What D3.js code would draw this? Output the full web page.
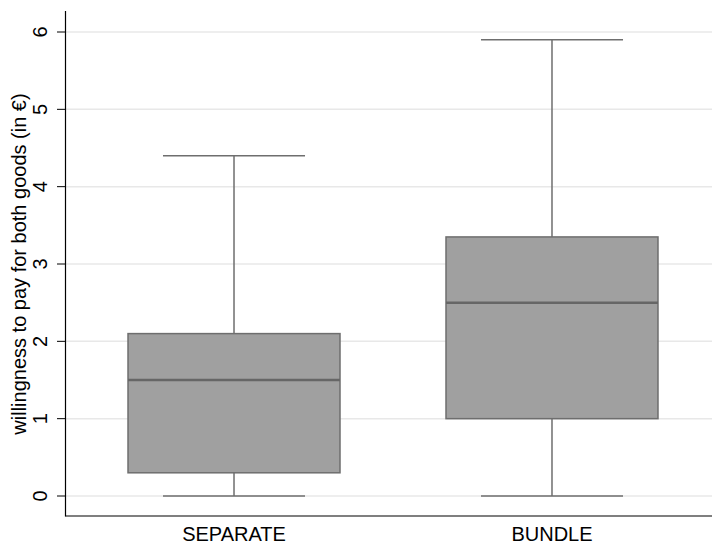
<!DOCTYPE html>
<html><head><meta charset="utf-8">
<script src="https://cdn.jsdelivr.net/npm/d3@7"></script>
<style>body{margin:0;background:#fff}svg{display:block}text{font-family:"Liberation Sans",Arial,sans-serif}</style>
</head><body><svg id="c" width="712" height="545"></svg>
<script>
const categories = ["SEPARATE", "BUNDLE"];
const lowerWhisker = [0, 0];
const q1 = [0.3, 1.0];
const median = [1.5, 2.5];
const q3 = [2.1, 3.35];
const upperWhisker = [4.4, 5.9];
const yTicks = [0, 1, 2, 3, 4, 5, 6];
const yLabel = "willingness to pay for both goods (in €)";

(function () {
const svg = d3.select("#c");
const axLeft = 65.5, axBottom = 516, axTop = 11;
const fs = 20;
const y = d3.scaleLinear().domain([0, 6]).range([496, 32]);
const x = d3.scaleBand().domain(categories).range([66, 720]).paddingInner(1/3).paddingOuter(0.195);

svg.append("g").selectAll("line").data(yTicks).join("line")
  .attr("x1", axLeft).attr("x2", 712).attr("y1", d => y(d)).attr("y2", d => y(d))
  .attr("stroke", "#e8e8e8").attr("stroke-width", 1.5);

const data = categories.map((c, i) => ({c, lo: lowerWhisker[i], q1: q1[i], med: median[i], q3: q3[i], hi: upperWhisker[i]}));
const bw = x.bandwidth();
const col = "#6e6e6e";
const g = svg.append("g").selectAll("g").data(data).join("g");
g.append("line").attr("x1", d => x(d.c) + bw/2).attr("x2", d => x(d.c) + bw/2)
  .attr("y1", d => y(d.q3)).attr("y2", d => y(d.hi)).attr("stroke", col).attr("stroke-width", 1.5);
g.append("line").attr("x1", d => x(d.c) + bw/2).attr("x2", d => x(d.c) + bw/2)
  .attr("y1", d => y(d.q1)).attr("y2", d => y(d.lo)).attr("stroke", col).attr("stroke-width", 1.5);
g.append("line").attr("x1", d => x(d.c) + bw*0.165).attr("x2", d => x(d.c) + bw*0.835)
  .attr("y1", d => y(d.hi)).attr("y2", d => y(d.hi)).attr("stroke", col).attr("stroke-width", 1.5);
g.append("line").attr("x1", d => x(d.c) + bw*0.165).attr("x2", d => x(d.c) + bw*0.835)
  .attr("y1", d => y(d.lo)).attr("y2", d => y(d.lo)).attr("stroke", col).attr("stroke-width", 1.5);
g.append("rect").attr("x", d => x(d.c)).attr("width", bw)
  .attr("y", d => y(d.q3)).attr("height", d => y(d.q1) - y(d.q3))
  .attr("fill", "#a0a0a0").attr("stroke", col).attr("stroke-width", 1.5);
g.append("line").attr("x1", d => x(d.c)).attr("x2", d => x(d.c) + bw)
  .attr("y1", d => y(d.med)).attr("y2", d => y(d.med)).attr("stroke", "#666").attr("stroke-width", 2.5);

svg.append("line").attr("x1", axLeft).attr("x2", axLeft).attr("y1", axTop).attr("y2", axBottom + 0.5)
  .attr("stroke", "#000").attr("stroke-width", 1.2);
svg.append("line").attr("x1", axLeft).attr("x2", 712).attr("y1", axBottom).attr("y2", axBottom)
  .attr("stroke", "#000").attr("stroke-width", 1.2);
svg.append("g").selectAll("line").data(yTicks).join("line")
  .attr("x1", 57).attr("x2", axLeft).attr("y1", d => y(d)).attr("y2", d => y(d))
  .attr("stroke", "#000").attr("stroke-width", 1);
svg.append("g").selectAll("text").data(yTicks).join("text")
  .attr("transform", d => `translate(47,${y(d)}) rotate(-90)`)
  .attr("text-anchor", "middle").attr("font-size", fs).attr("fill", "#000").text(d => d);
svg.append("g").selectAll("text").data(categories).join("text")
  .attr("x", d => x(d) + bw/2).attr("y", 541).attr("text-anchor", "middle")
  .attr("font-size", fs).attr("fill", "#000").text(d => d);
svg.append("text").attr("transform", `translate(26,264) rotate(-90)`)
  .attr("text-anchor", "middle").attr("font-size", fs).attr("fill", "#000").text(yLabel);
})();
</script></body></html>
